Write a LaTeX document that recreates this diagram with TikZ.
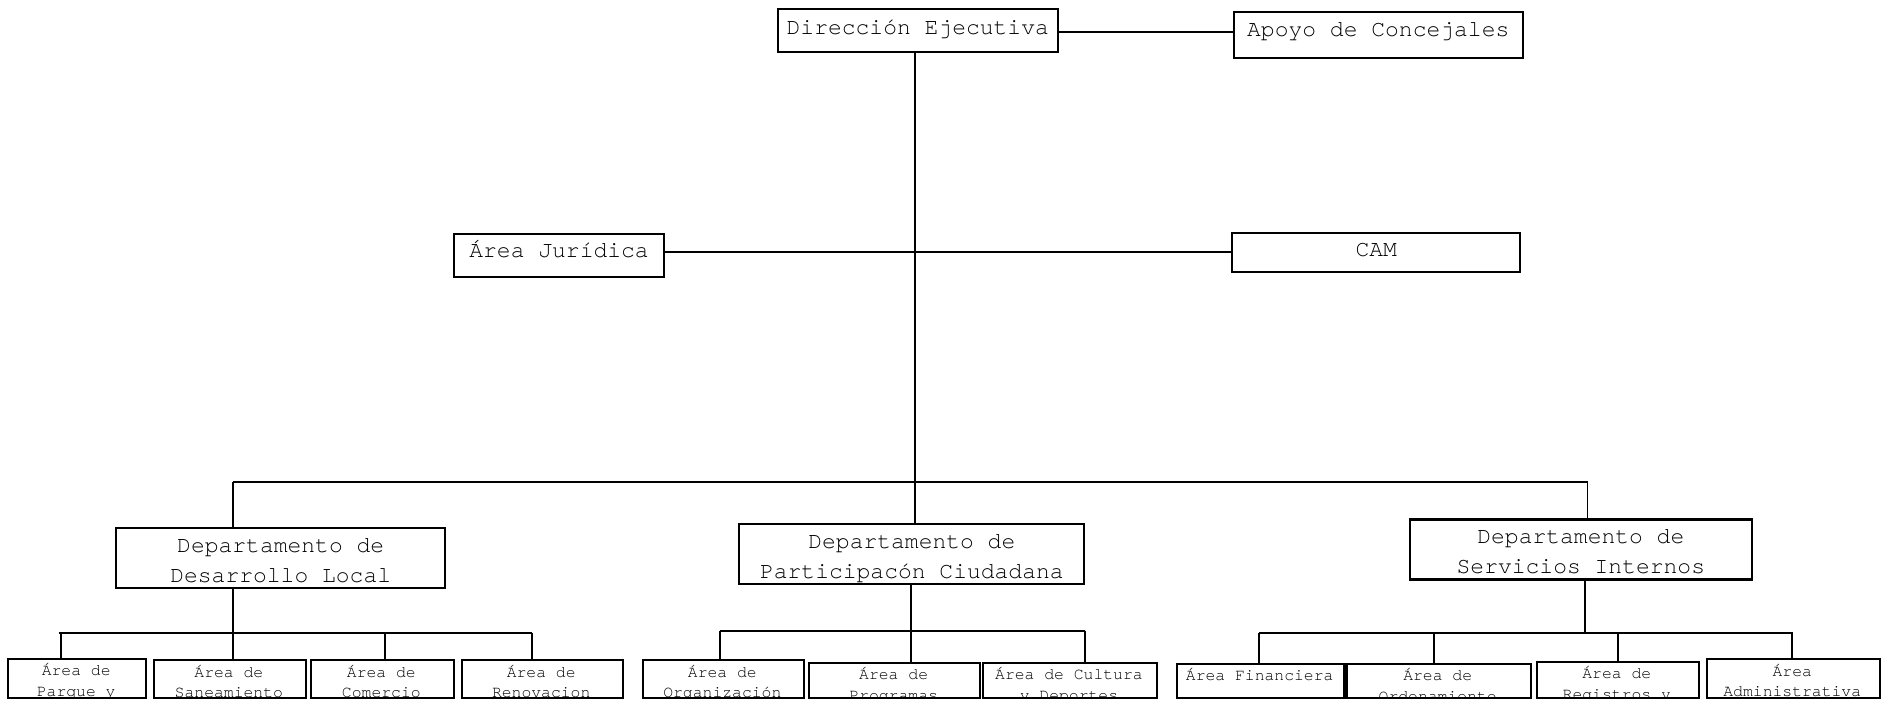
\documentclass[tikz,border=0pt]{standalone}
\usepackage{fontspec}
\newfontfamily\mono{TeX Gyre Cursor}
\newcommand\dstr{\rule[-5.5pt]{0pt}{30pt}}
\newcommand\lstr{\rule[-4.4pt]{0pt}{20.4pt}}
\newcommand\leafbox[6]{%
  \begin{scope}
    \clip (#2,#3) rectangle (#4,#5);
    \node[small] (#1t) at ({(#2+#4)/2},{#3+2}) {\lstr #6};
  \end{scope}
  \node[box, minimum width={#4-#2}, minimum height={#5-#3}] (#1) at (#2,#3) {};%
}
\begin{document}
\begin{tikzpicture}[x=1pt,y=-1pt,
  box/.style={draw, line width=2.1pt, inner sep=0pt, anchor=north west},
  big/.style={font=\mono\fontsize{23}{30}\selectfont, align=center},
  small/.style={font=\mono\fontsize{16.4}{20.4}\selectfont, align=center, inner sep=0pt, anchor=north},
  conn/.style={line width=2.1pt},
  thinc/.style={line width=1.4pt}]
\useasboundingbox (0,0) rectangle (1881,701);

% top level
\node[box, big, minimum width=280pt, minimum height=42.4pt] (dir) at (776.7,8.3) {\rule[-15.2pt]{0pt}{38pt}Dirección Ejecutiva};
\node[box, big, minimum width=289pt, minimum height=45.7pt] (apoyo) at (1232.7,11) {\rule[-17.8pt]{0pt}{38pt}Apoyo de Concejales};
\node[box, big, minimum width=209.4pt, minimum height=43.3pt] (jur) at (453.3,232.7) {\rule[-16.6pt]{0pt}{38pt}Área Jurídica};
\node[box, big, minimum width=288pt, minimum height=39.6pt] (cam) at (1231.2,231.6) {\rule[-15pt]{0pt}{38pt}CAM};

% departments
\node[box, big, minimum width=329.3pt, minimum height=59.4pt] (dl) at (115,527.3) {\dstr Departamento de\\\dstr Desarrollo Local};
\node[box, big, minimum width=345pt, minimum height=60pt] (part) at (738.3,522.7) {\dstr Departamento de\\\dstr Participacón Ciudadana};
\node[box, big, minimum width=342pt, minimum height=60pt] (si) at (1408.8,518.4) {\dstr Departamento de\\\dstr Servicios Internos};

% leaves
\leafbox{l1}{7.2}{657.5}{145.2}{697.2}{Área de\\Parque y}
\leafbox{l2}{152.7}{659}{305}{697.2}{Área de\\Saneamiento}
\leafbox{l3}{310}{659}{452.7}{697.2}{Área de\\Comercio}
\leafbox{l4}{460.8}{659}{621.6}{697.2}{Área de\\Renovacion}
\leafbox{m1}{642}{659}{802.7}{697.2}{Área de\\Organización}
\leafbox{m2}{808.3}{661.7}{979}{697.2}{Área de\\Programas}
\leafbox{m3}{982.3}{661.7}{1155.6}{697.2}{Área de Cultura\\y Deportes}
\leafbox{r1}{1176}{662.7}{1343.4}{697.2}{Área Financiera}
\leafbox{r2}{1345.4}{662.7}{1530}{697.2}{Área de\\Ordenamiento}
\leafbox{r3}{1535.6}{660.7}{1698}{697.2}{Área de\\Registros y}
\leafbox{r4}{1706}{658.3}{1878.5}{697.2}{Área\\Administrativa}

% top connectors
\coordinate (tk) at (915,0);
\coordinate (ay) at (0,32.3);
\coordinate (cy) at (0,252.3);
\draw[conn] (dir.east |- ay) -- (apoyo.west |- ay);
\draw[thinc] (tk |- dir.south) -- (tk |- part.north);
\draw[conn] (jur.east |- cy) -- (cam.west |- cy);

% main bus
\coordinate (bl) at (232.8,482.4);
\coordinate (br) at (1587.6,482.4);
\draw[conn] (bl) -- (br);
\draw[conn] (bl) -- (bl |- dl.north);
\draw[thinc] (br) -- (br |- si.north);

% left group
\coordinate (la) at (58.8,632.7);
\coordinate (lz) at (531.6,632.7);
\coordinate (d1) at (61.2,632.7);
\coordinate (d2) at (232.7,632.7);
\coordinate (d3) at (385,632.7);
\coordinate (d4) at (531.6,632.7);
\draw[conn] (la) -- (lz);
\draw[conn] (d2 |- dl.south) -- (d2 |- l2.north);
\draw[conn] (d1) -- (d1 |- l1.north);
\draw[conn] (d3) -- (d3 |- l3.north);
\draw[conn] (d4) -- (d4 |- l4.north);

% middle group
\coordinate (ma) at (720,630.7);
\coordinate (mz) at (1085,630.7);
\coordinate (e2) at (911,630.7);
\draw[conn] (ma) -- (mz);
\draw[conn] (e2 |- part.south) -- (e2 |- m2.north);
\draw[conn] (ma) -- (ma |- m1.north);
\draw[conn] (mz) -- (mz |- m3.north);

% right group
\coordinate (ra) at (1259,632.7);
\coordinate (rz) at (1793,632.7);
\coordinate (f0) at (1585.2,632.7);
\coordinate (f2) at (1434,632.7);
\coordinate (f3) at (1617.6,632.7);
\coordinate (f4) at (1792,632.7);
\draw[conn] (ra) -- (rz);
\draw[conn] (f0 |- si.south) -- (f0);
\draw[conn] (ra) -- (ra |- r1.north);
\draw[conn] (f2) -- (f2 |- r2.north);
\draw[conn] (f3) -- (f3 |- r3.north);
\draw[conn] (f4) -- (f4 |- r4.north);
\end{tikzpicture}
\end{document}
